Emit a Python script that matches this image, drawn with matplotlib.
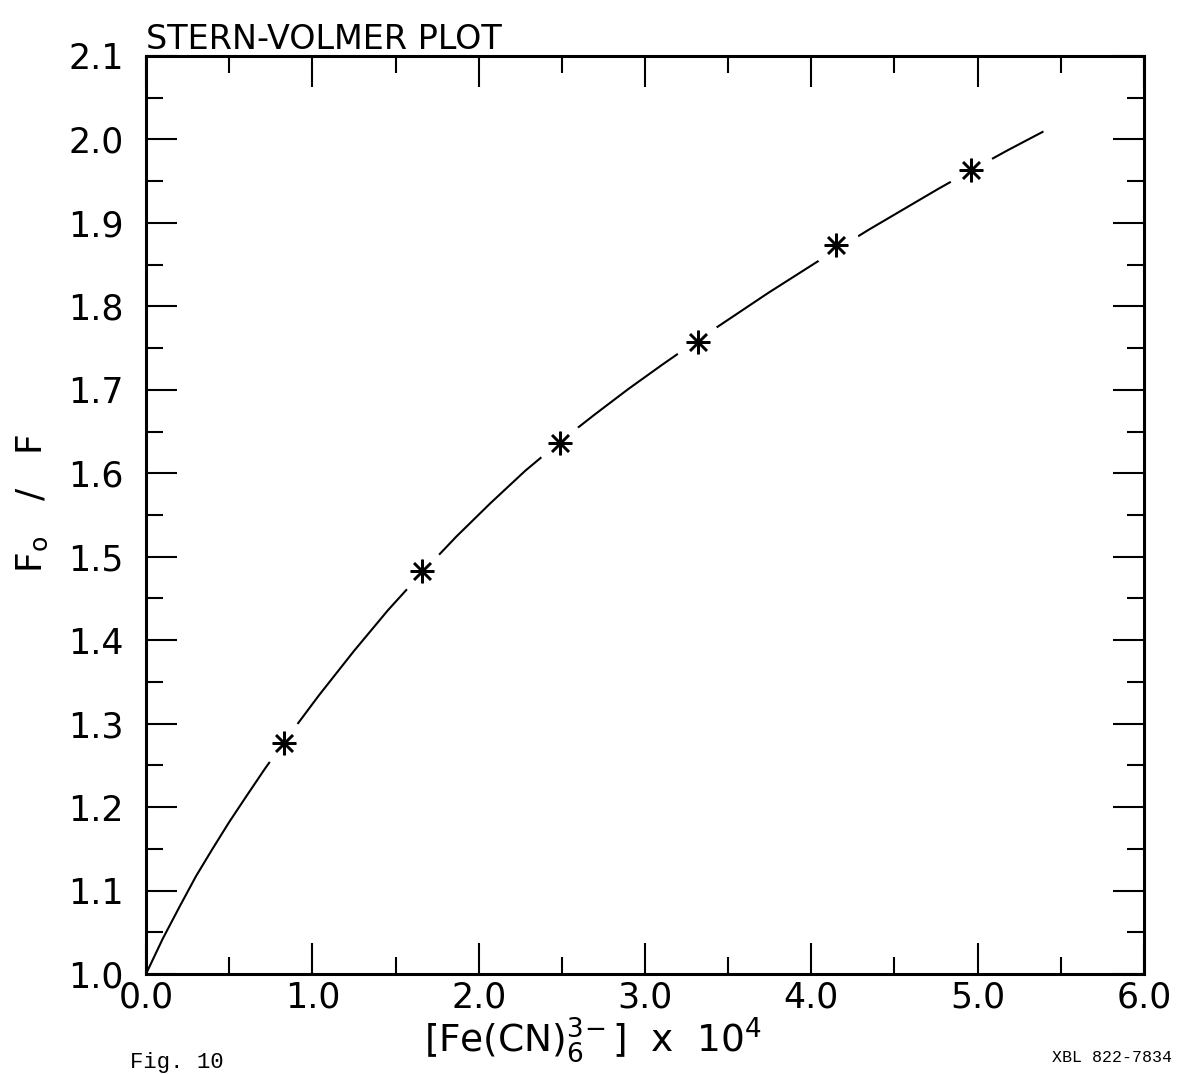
import matplotlib
matplotlib.use("Agg")
import matplotlib.pyplot as plt
from matplotlib.ticker import MultipleLocator

# Data
conc = [0.83, 1.66, 2.49, 3.32, 4.15, 4.96]          # [Fe(CN)6 3-] x 10^4
ratio = [1.277, 1.483, 1.636, 1.757, 1.874, 1.963]  # F0/F

# fitted curve, points
curve_x = [0.0, 0.1, 0.2, 0.3, 0.4, 0.5, 0.6, 0.715, 0.83, 1.04, 1.25,
           1.455, 1.66, 1.865, 2.07, 2.28, 2.49, 2.695, 2.9, 3.11, 3.32,
           3.53, 3.74, 3.945, 4.15, 4.355, 4.56, 4.765, 4.97, 5.18, 5.39]
curve_y = [1.0, 1.042, 1.080, 1.117, 1.150, 1.182, 1.212, 1.246, 1.278,
           1.334, 1.387, 1.436, 1.481, 1.524, 1.564, 1.603, 1.638, 1.670,
           1.701, 1.731, 1.760, 1.788, 1.816, 1.842, 1.868, 1.893, 1.917,
           1.941, 1.964, 1.987, 2.009]

xticks = [0.0, 1.0, 2.0, 3.0, 4.0, 5.0, 6.0]
xtick_labels = ["0.0", "1.0", "2.0", "3.0", "4.0", "5.0", "6.0"]
yticks = [1.0, 1.1, 1.2, 1.3, 1.4, 1.5, 1.6, 1.7, 1.8, 1.9, 2.0, 2.1]
ytick_labels = ["1.0", "1.1", "1.2", "1.3", "1.4", "1.5", "1.6", "1.7",
                "1.8", "1.9", "2.0", "2.1"]

plt.rcParams['font.family'] = ['DejaVu Sans']

fig = plt.figure(figsize=(11.79, 10.74), dpi=100)
ax = fig.add_axes([146 / 1179, 1 - 974 / 1074, (1144 - 146) / 1179, (974 - 56) / 1074])

ax.plot(curve_x, curve_y, color="black", lw=1.5, zorder=2)
ax.plot(conc, ratio, linestyle="none", marker="o", ms=34, mfc="white",
        mec="none", zorder=3)
ax.plot(conc, ratio, linestyle="none", marker=(8, 2, 0), ms=17, mec="black",
        mew=1.8, zorder=4)

ax.set_xlim(0, 6)
ax.set_ylim(1.0, 2.1)
ax.set_xticks(xticks)
ax.set_xticklabels(xtick_labels)
ax.set_yticks(yticks)
ax.set_yticklabels(ytick_labels)
ax.xaxis.set_minor_locator(MultipleLocator(0.5))
ax.yaxis.set_minor_locator(MultipleLocator(0.05))
ax.tick_params(which="both", direction="in", top=True, right=True,
               width=1.5, color="black")
ax.tick_params(which="major", length=22)
ax.tick_params(which="minor", length=12)
ax.tick_params(axis="x", which="major", labelsize=25, pad=5)
ax.tick_params(axis="y", which="major", labelsize=25, pad=16)
for s in ax.spines.values():
    s.set_linewidth(2.2)

ax.text(0.0, 1.0, "STERN-VOLMER PLOT", transform=ax.transAxes,
        fontsize=24, ha="left", va="bottom")

fig.text(593 / 1179, 1 - 1040 / 1074, r"[Fe(CN)$_6^{3\!-}$]  x  10$^4$",
         fontsize=27, ha="center", va="center")
fig.text(32 / 1179, 1 - 503 / 1074, r"F$_\mathrm{o}$   /   F", fontsize=26,
         rotation=90, ha="center", va="center")
fig.text(1172 / 1179, 1 - 1057 / 1074, "XBL 822-7834",
         family="Liberation Mono", fontsize=12, ha="right", va="center")
fig.text(130 / 1179, 0.001, "Fig. 10", family="Liberation Mono",
         fontsize=16, ha="left", va="bottom")

fig.savefig("out.png", dpi=100)
